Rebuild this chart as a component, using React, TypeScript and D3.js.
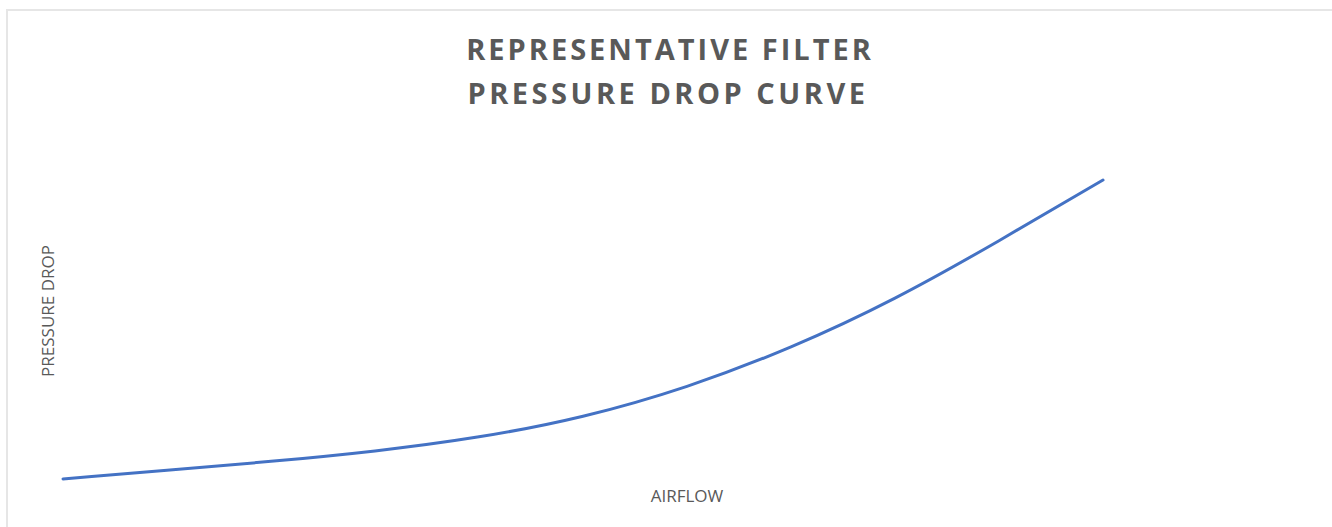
import React from "react";
import * as d3 from "d3";

const airflow = [0, 10, 20, 30, 40, 50, 60, 70, 80, 90, 100];
const pressureDrop = [0, 2.9, 5.9, 9.4, 14.1, 21.0, 31.0, 44.2, 60.5, 79.7, 100];
const titleLines = ["REPRESENTATIVE FILTER", "PRESSURE DROP CURVE"];
const xLabel = "AIRFLOW";
const yLabel = "PRESSURE DROP";

const W = 1332;
const H = 527;

export default function App() {
  const x = d3.scaleLinear().domain([0, 100]).range([63, 1103]);
  const y = d3.scaleLinear().domain([0, 100]).range([479, 180]);
  const data = airflow.map((a, i) => ({ a, p: pressureDrop[i] }));
  const line = d3
    .line<{ a: number; p: number }>()
    .x((d) => x(d.a))
    .y((d) => y(d.p))
    .curve(d3.curveNatural);

  return (
    <svg
      width={W}
      height={H}
      style={{ position: "absolute", left: 0, top: 0, background: "#fff" }}
    >
      <rect x={7} y={10} width={1400} height={600} fill="#fff" stroke="#e6e6e6" strokeWidth={2} />
      <g fontFamily="'Open Sans', sans-serif" fill="#595959">
        <text x={670} y={60} textAnchor="middle" fontSize={29} fontWeight={700} letterSpacing={3}>
          {titleLines[0]}
        </text>
        <text x={668} y={104} textAnchor="middle" fontSize={29} fontWeight={700} letterSpacing={3.5}>
          {titleLines[1]}
        </text>
        <text x={687} y={502} textAnchor="middle" fontSize={17}>
          {xLabel}
        </text>
        <text
          transform={`translate(54,311) rotate(-90)`}
          textAnchor="middle"
          fontSize={17}
        >
          {yLabel}
        </text>
      </g>
      <path
        d={line(data) || ""}
        fill="none"
        stroke="#4472C4"
        strokeWidth={3}
        strokeLinecap="round"
      />
    </svg>
  );
}
